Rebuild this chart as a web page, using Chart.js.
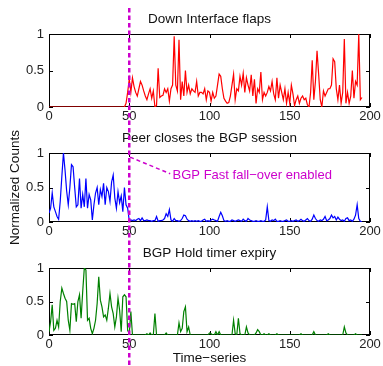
<!DOCTYPE html>
<html>
<head>
<meta charset="utf-8">
<script src="https://cdn.jsdelivr.net/npm/chart.js@4.4.1/dist/chart.umd.min.js"></script>
<style>
    html, body { margin: 0; padding: 0; background: #fff; }
    #wrap { position: relative; width: 383px; height: 366px; }
    #wrap canvas { position: absolute; left: 0; top: 0; }
</style>
</head>
<body>
<div id="wrap">
    <canvas id="panel-flaps" width="383" height="366"></canvas>
    <canvas id="panel-peer" width="383" height="366"></canvas>
    <canvas id="panel-hold" width="383" height="366"></canvas>
</div>
<script>
// --- Data (normalized counts per time step) ---
const flapCounts = [
    0, 0, 0, 0, 0, 0, 0, 0, 0, 0,
    0, 0, 0, 0, 0, 0, 0, 0, 0, 0,
    0, 0, 0, 0, 0, 0, 0, 0, 0, 0,
    0, 0, 0, 0, 0, 0, 0, 0, 0, 0,
    0, 0, 0, 0, 0, 0, 0, 0, 0.05, 0.2,
    0.38, 0.2, 0.4, 0.28, 0.2, 0.15, 0.25, 0.35, 0.3, 0.22,
    0.15, 0.1, 0.18, 0.25, 0.12, 0.22, 0.0, 0.02, 0.53, 0.13,
    0.15, 0.16, 0.25, 0.2, 0.25, 0.08, 0.25, 0.3, 0.97, 0.3,
    0.22, 0.92, 0.1, 0.35, 0.15, 0.5, 0.2, 0.3, 0.18, 0.25,
    0.22, 0.2, 0.35, 0.15, 0.2, 0.2, 0.18, 0.25, 0.1, 0.22,
    0.2, 0.08, 0.2, 0.12, 0.15, 0.3, 0.45, 0.42, 0.25, 0.12,
    0.08, 0.05, 0.06, 0.15, 0.3, 0.45, 0.1, 0.25, 0.22, 0.42,
    0.3, 0.46, 0.2, 0.4, 0.3, 0.22, 0.44, 0.15, 0.38, 0.05,
    0.25, 0.2, 0.48, 0.1, 0.2, 0.15, 0.2, 0.28, 0.22, 0.35,
    0.18, 0.1, 0.4, 0.12, 0.3, 0.2, 0.1, 0.25, 0.05, 0.2,
    0.05, 0.3, 0.18, 0.02, 0.1, 0.15, 0.05, 0.12, 0.15, 0.1,
    0.12, 0.03, 0.0, 0.2, 0.64, 0.1, 0.35, 0.77, 0.45, 0.1,
    0.0, 0.22, 0.15, 0.2, 0.25, 0.25, 0.3, 0.66, 0.62, 0.25,
    0.1, 0.3, 0.05, 0.2, 0.93, 0.05, 0.2, 0.05, 0.15, 0.5,
    0.12, 0.35, 0.3, 1.0, 0.1, 0.13
];

const peerCloseCounts = [
    0.13, 0.2, 0.42, 0.22, 0.15, 0.08, 0.04, 0.3, 0.66, 1.0,
    0.75, 0.45, 0.25, 0.5, 0.83, 0.8, 0.5, 0.22, 0.25, 0.63,
    0.2, 0.4, 0.22, 0.63, 0.2, 0.4, 0.32, 0.03, 0.25, 0.42,
    0.5, 0.25, 0.47, 0.37, 0.56, 0.25, 0.5, 0.44, 0.3, 0.58,
    0.68, 0.35, 0.2, 0.44, 0.28, 0.38, 0.15, 0.5, 0.25, 0.2,
    0.02, 0.03, 0.02, 0.03, 0.02, 0.04, 0.05, 0.02, 0.06, 0.02,
    0.02, 0.03, 0.02, 0.02, 0.01, 0.02, 0.02, 0.08, 0.01, 0.02,
    0.02, 0.03, 0.05, 0.12, 0.08, 0.18, 0.03, 0.01, 0.05, 0.02,
    0.02, 0.01, 0.02, 0.05, 0.1, 0.09, 0.04, 0.02, 0.01, 0.02,
    0.01, 0.02, 0.01, 0.02, 0.01, 0.01, 0.03, 0.04, 0.01, 0.02,
    0.01, 0.03, 0.04, 0.03, 0.02, 0.01, 0.08, 0.14, 0.09, 0.02,
    0.01, 0.02, 0.01, 0.01, 0.03, 0.02, 0.01, 0.02, 0.03, 0.02,
    0.01, 0.04, 0.02, 0.01, 0.05, 0.03, 0.02, 0.01, 0.01, 0.02,
    0.01, 0.01, 0.02, 0.01, 0.01, 0.03, 0.22, 0.02, 0.01, 0.03,
    0.02, 0.04, 0.01, 0.01, 0.02, 0.01, 0.01, 0.02, 0.03, 0.01,
    0.01, 0.02, 0.01, 0.02, 0.03, 0.01, 0.02, 0.04, 0.02, 0.01,
    0.03, 0.05, 0.02, 0.01, 0.04, 0.1, 0.05, 0.02, 0.01, 0.03,
    0.02, 0.04, 0.08, 0.02, 0.03, 0.05, 0.1, 0.06, 0.08, 0.03,
    0.07, 0.04, 0.02, 0.03, 0.01, 0.05, 0.06, 0.02, 0.03, 0.01,
    0.04, 0.1, 0.25, 0.05, 0.01, 0.0
];

const holdTimerCounts = [
    0.05, 0.2, 0.45, 0.07, 0.1, 0.22, 0.12, 0.5, 0.7, 0.62,
    0.55, 0.5, 0.22, 0.07, 0.47, 0.46, 0.47, 0.2, 0.5, 0.6,
    0.25, 0.65, 1.0, 0.97, 0.22, 0.25, 0.1, 0.02, 0.1, 0.22,
    0.47, 0.87, 0.52, 0.42, 0.27, 0.3, 0.22, 0.4, 0.62, 0.42,
    0.32, 0.12, 0.27, 0.55, 0.37, 0.05, 0.57, 0.6, 0.57, 0.07,
    0.02, 0.35, 0, 0, 0, 0, 0, 0, 0, 0,
    0, 0.02, 0, 0.03, 0, 0, 0.32, 0, 0, 0,
    0, 0, 0, 0.03, 0, 0, 0, 0, 0, 0,
    0, 0.18, 0.05, 0.1, 0.35, 0.42, 0.05, 0.12, 0, 0,
    0, 0, 0, 0, 0, 0, 0, 0, 0, 0,
    0.03, 0.02, 0, 0, 0.05, 0, 0.05, 0, 0, 0,
    0, 0, 0, 0, 0, 0.22, 0.02, 0, 0.25, 0.02,
    0, 0, 0, 0.12, 0.03, 0, 0, 0, 0, 0.03,
    0.08, 0.05, 0, 0, 0.02, 0, 0, 0.02, 0, 0,
    0, 0, 0.02, 0, 0, 0, 0, 0, 0, 0,
    0, 0, 0, 0, 0, 0, 0, 0.02, 0, 0,
    0, 0, 0, 0, 0, 0.05, 0, 0, 0, 0,
    0, 0, 0, 0, 0.02, 0, 0, 0, 0, 0,
    0, 0, 0, 0, 0.12, 0.03, 0, 0, 0, 0,
    0, 0.02, 0, 0, 0, 0
];

// time index for each sample
const timeSteps = flapCounts.map((_, i) => i);
const fallOverStep = 50;

const FONT = '"Liberation Sans", Arial, Helvetica, sans-serif';
const MAGENTA = '#cc00cc';

Chart.defaults.font.family = FONT;
Chart.defaults.font.size = 13;
Chart.defaults.color = '#222';

// MATLAB-ish box with inward ticks, panel title, and the fall-over marker
const boxPlugin = {
    id: 'matBox',
    beforeDatasetsDraw(chart, args, opts) {
        const { ctx, chartArea: a, scales: { x, y } } = chart;
        ctx.save();
        ctx.strokeStyle = '#000';
        ctx.lineWidth = 1;
        ctx.strokeRect(a.left + 0.5, a.top + 0.5, a.right - a.left - 1, a.bottom - a.top - 1);

        ctx.beginPath();
        x.ticks.forEach(t => {
            const px = Math.round(x.getPixelForValue(t.value)) + 0.5;
            ctx.moveTo(px, a.top); ctx.lineTo(px, a.top + 4);
            ctx.moveTo(px, a.bottom); ctx.lineTo(px, a.bottom - 4);
        });
        y.ticks.forEach(t => {
            const py = Math.round(y.getPixelForValue(t.value)) + 0.5;
            ctx.moveTo(a.left, py); ctx.lineTo(a.left + 4, py);
            ctx.moveTo(a.right, py); ctx.lineTo(a.right - 4, py);
        });
        ctx.stroke();

        ctx.fillStyle = '#111';
        ctx.font = '13.5px ' + FONT;
        ctx.textAlign = 'center';
        ctx.textBaseline = 'alphabetic';
        ctx.fillText(opts.title, (a.left + a.right) / 2, a.top - 11);
        ctx.restore();
    },
    afterDraw(chart, args, opts) {
        const { ctx, scales: { x, y } } = chart;
        const px = x.getPixelForValue(fallOverStep);
        ctx.save();
        ctx.strokeStyle = MAGENTA;
        ctx.lineWidth = 2.5;
        ctx.setLineDash([4.5, 3]);
        ctx.lineDashOffset = opts.band[0] - 8;
        ctx.beginPath();
        ctx.moveTo(px, opts.band[0]);
        ctx.lineTo(px, opts.band[1]);
        ctx.stroke();

        if (opts.note) {
            const n = opts.note;
            ctx.lineWidth = 1.5;
            ctx.setLineDash([4, 3]);
            ctx.lineDashOffset = 0;
            ctx.beginPath();
            ctx.moveTo(x.getPixelForValue(n.from[0]), y.getPixelForValue(n.from[1]));
            ctx.lineTo(x.getPixelForValue(n.to[0]), y.getPixelForValue(n.to[1]));
            ctx.stroke();
            ctx.fillStyle = MAGENTA;
            ctx.font = '13px ' + FONT;
            ctx.textAlign = 'left';
            ctx.textBaseline = 'middle';
            ctx.fillText(n.text, x.getPixelForValue(n.at[0]), y.getPixelForValue(n.at[1]));
        }
        ctx.restore();
    }
};

function makePanel(id, cfg) {
    return new Chart(document.getElementById(id), {
        type: 'line',
        data: {
            labels: timeSteps,
            datasets: [{
                data: cfg.values,
                borderColor: cfg.color,
                borderWidth: 1.2,
                pointRadius: 0,
                tension: 0,
                fill: false
            }]
        },
        options: {
            responsive: false,
            animation: false,
            devicePixelRatio: 1,
            events: [],
            layout: { padding: { top: cfg.top, bottom: cfg.bottom, left: 0, right: 13 } },
            plugins: {
                legend: { display: false },
                tooltip: { enabled: false },
                matBox: { title: cfg.title, band: cfg.band, note: cfg.note }
            },
            scales: {
                x: {
                    type: 'linear',
                    min: 0,
                    max: 200,
                    ticks: { stepSize: 50, padding: 2, maxRotation: 0 },
                    grid: { display: false, drawTicks: false },
                    border: { display: false },
                    title: cfg.xTitle || { display: false },
                    afterFit(scale) { scale.height = cfg.xh; }
                },
                y: {
                    min: 0,
                    max: 1,
                    ticks: { stepSize: 0.5, padding: 5, callback: v => String(v) },
                    grid: { display: false, drawTicks: false },
                    border: { display: false },
                    title: cfg.yTitle || { display: false },
                    afterFit(scale) { scale.width = 49; }
                }
            }
        },
        plugins: [boxPlugin]
    });
}

makePanel('panel-flaps', {
    values: flapCounts, color: '#ff0000', title: 'Down Interface flaps',
    top: 34, bottom: 244, xh: 15, band: [8, 122]
});

makePanel('panel-peer', {
    values: peerCloseCounts, color: '#0000ff', title: 'Peer closes the BGP session',
    top: 153, bottom: 126, xh: 18, band: [122, 240],
    yTitle: { display: true, text: 'Normalized Counts', color: '#111', font: { size: 13.5 }, padding: { top: 7, bottom: 0 } },
    note: { from: [50.5, 0.94], to: [75.5, 0.7], at: [77, 0.67], text: 'BGP Fast fall\u2212over enabled' }
});

makePanel('panel-hold', {
    values: holdTimerCounts, color: '#008000', title: 'BGP Hold timer expiry',
    top: 268, bottom: 0, xh: 31, band: [240, 366],
    xTitle: { display: true, text: 'Time\u2212series', color: '#111', font: { size: 13.5 }, padding: { top: 0, bottom: 0 } }
});
</script>
</body>
</html>
